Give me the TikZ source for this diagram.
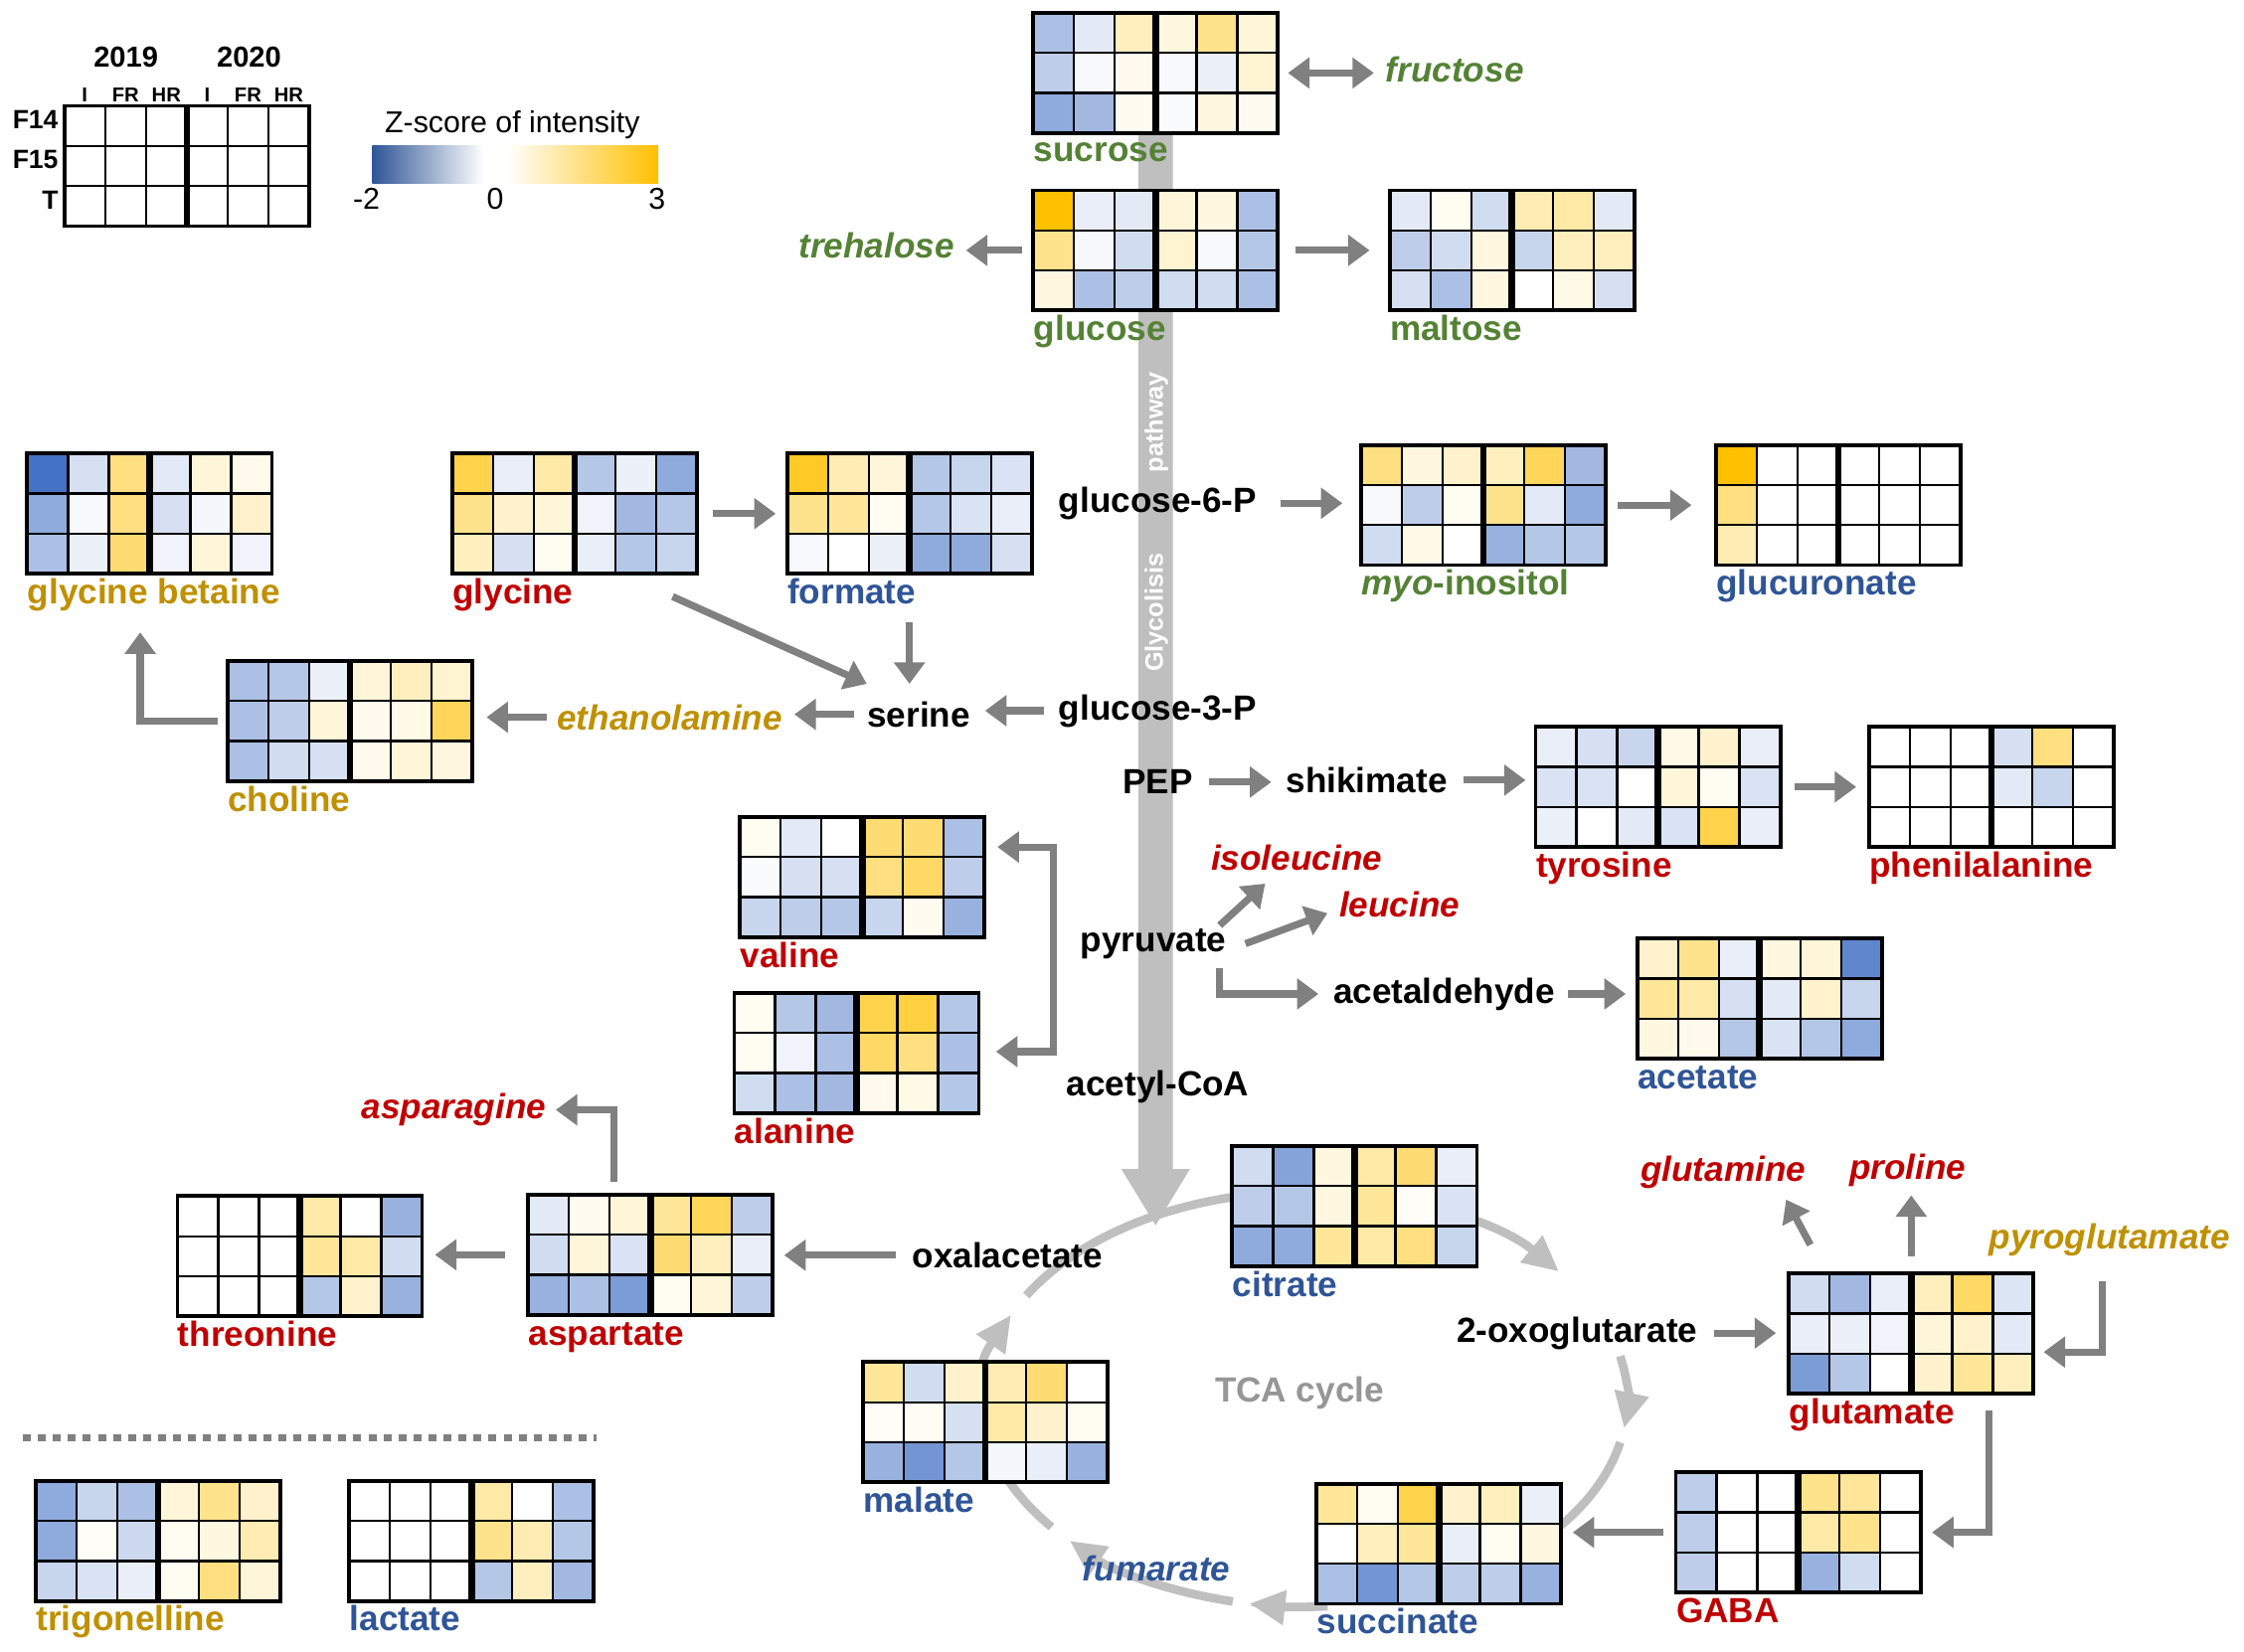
\documentclass[tikz,border=0pt]{standalone}
\usepackage{fontspec}
\setmainfont{Liberation Sans}
\usetikzlibrary{arrows.meta,backgrounds}

\definecolor{hmb}{HTML}{4472C4}
\definecolor{hmy}{HTML}{FFC000}
\definecolor{hmw}{HTML}{FFFFFF}
\definecolor{cgreen}{HTML}{548235}
\definecolor{cred}{HTML}{C00000}
\definecolor{cblue}{HTML}{2F5597}
\definecolor{cgold}{HTML}{BF9000}
\definecolor{agray}{HTML}{808080}
\definecolor{lgray}{HTML}{BFBFBF}
\definecolor{ctca}{HTML}{969696}

\newcommand{\molfont}{\fontsize{13.9}{16}\selectfont\bfseries}

% heatmap: name, top-left corner, 18 cells (colour/percent)
\newcommand{\hmap}[3]{%
  \begin{scope}[shift={(#2)}]
    \foreach \cc/\pp [count=\i from 0] in {#3} {
      \pgfmathtruncatemacro\hc{mod(\i,6)}
      \pgfmathtruncatemacro\hr{floor(\i/6)}
      \fill[fill=hm\cc!\pp!white] (\hc*28.5,\hr*28) rectangle ++(28.5,28);
    }
    \foreach \k in {1,2,4,5} \draw[hmthin] (\k*28.5,0) -- (\k*28.5,84);
    \foreach \k in {1,2} \draw[hmthin] (0,\k*28) -- (171,\k*28);
    \draw[hmmid] (85.5,0) -- (85.5,84);
  \end{scope}
  \node[hmbox] (#1) at (#2) {};
}

\begin{document}
\begin{tikzpicture}[x=0.02cm, y=-0.02cm]
	\tikzstyle{every node}+=[inner sep=0pt]
	\tikzstyle{hmthin}=[black, line width=0.9pt]
	\tikzstyle{hmmid}=[black, line width=2.6pt]
	\tikzstyle{hmbox}=[draw=black, line width=1.5pt, minimum width=3.42cm, minimum height=1.68cm, anchor=north west, outer sep=0pt]
	\tikzstyle{mol}=[anchor=base, font=\molfont]
	\tikzstyle{hmlbl}=[anchor=base west, font=\molfont]
	\tikzstyle{conv}=[draw=agray, line width=0.1cm, -{Triangle[length=0.3cm,width=0.42cm]}]
	\tikzstyle{dconv}=[conv, {Triangle[length=0.3cm,width=0.42cm]}-{Triangle[length=0.3cm,width=0.42cm]}]
	\tikzstyle{tcaarc}=[draw=lgray, line width=0.12cm, -{Triangle[length=0.5cm,width=0.46cm]}]
	\tikzstyle{glyco}=[draw=lgray, line width=0.48cm, -{Triangle[length=0.8cm,width=0.9cm]}]
	\useasboundingbox (0,0) rectangle (1568,1154);

	% legend
	\hmap{legend}{45,74}{w/0,w/0,w/0,w/0,w/0,w/0,w/0,w/0,w/0,w/0,w/0,w/0,w/0,w/0,w/0,w/0,w/0,w/0}
	\node[anchor=base, font=\fontsize{11.5}{13}\selectfont\bfseries] (y2019) at (88,47) {2019};
	\node[anchor=base, font=\fontsize{11.5}{13}\selectfont\bfseries] (y2020) at (174,47) {2020};
	\foreach \t [count=\k] in {I,FR,HR,I,FR,HR}
		\node[anchor=base, font=\fontsize{8}{9}\selectfont\bfseries] (sub\k) at (30.75+28.5*\k,71) {\t};
	\node[anchor=base east, font=\fontsize{10.5}{12}\selectfont\bfseries] (f14) at (41,90) {F14};
	\node[anchor=base east, font=\fontsize{10.5}{12}\selectfont\bfseries] (f15) at (41,118) {F15};
	\node[anchor=base east, font=\fontsize{10.5}{12}\selectfont\bfseries] (rowt) at (41,146) {T};
	\node[anchor=base, font=\fontsize{12}{14}\selectfont] (zlab) at (358,93) {Z-score of intensity};
	\shade[left color=cblue, right color=white] (260,102) rectangle (338,128);
	\fill[white] (338,102) rectangle (354,128);
	\shade[left color=white, right color=hmy] (354,102) rectangle (460,128);
	\node[anchor=base, font=\fontsize{12}{14}\selectfont] (tmin) at (256,146) {-2};
	\node[anchor=base, font=\fontsize{12}{14}\selectfont] (tmid) at (346,146) {0};
	\node[anchor=base, font=\fontsize{12}{14}\selectfont] (tmax) at (459,146) {3};

	% heatmaps
	\hmap{sucrose}{722,9}{b/45,b/15,y/25,y/12,y/45,y/15, b/35,b/4,y/8,b/4,b/10,y/18, b/60,b/50,y/6,b/3,y/12,y/6}
	\hmap{glucose}{722,133}{y/100,b/12,b/15,y/15,y/12,b/45, y/45,b/5,b/25,y/18,b/4,b/40, y/12,b/45,b/35,b/25,b/25,b/45}
	\hmap{maltose}{971,133}{b/15,y/5,b/25,y/30,y/35,b/15, b/35,b/25,y/12,b/30,y/25,y/25, b/22,b/45,y/12,w/0,y/10,b/22}
	\hmap{gbetaine}{19,317}{b/100,b/22,y/50,b/15,y/15,y/8, b/60,b/4,y/50,b/22,b/6,y/20, b/45,b/10,y/55,b/8,y/15,b/8}
	\hmap{glycine}{316,317}{y/70,b/12,y/35,b/40,b/10,b/60, y/45,y/20,y/15,b/8,b/50,b/40, y/25,b/22,y/5,b/12,b/40,b/30}
	\hmap{formate}{550,317}{y/85,y/30,y/15,b/40,b/30,b/20, y/45,y/40,y/5,b/40,b/20,b/12, b/4,w/0,b/10,b/60,b/60,b/22}
	\hmap{myo}{951,311}{y/50,y/12,y/20,y/25,y/65,b/50, b/4,b/35,y/5,y/45,b/15,b/60, b/25,y/10,w/0,b/55,b/40,b/40}
	\hmap{glucuronate}{1199,311}{y/100,w/0,w/0,w/0,w/0,w/0, y/50,w/0,w/0,w/0,w/0,w/0, y/30,w/0,w/0,w/0,w/0,w/0}
	\hmap{choline}{159,462}{b/45,b/40,b/10,y/15,y/25,y/18, b/45,b/35,y/15,y/8,y/10,y/65, b/45,b/25,b/22,y/8,y/15,y/12}
	\hmap{tyrosine}{1073,508}{b/12,b/22,b/30,y/10,y/20,b/12, b/20,b/20,w/0,y/15,y/5,b/20, b/10,w/0,b/15,b/20,y/70,b/12}
	\hmap{phenylalanine}{1306,508}{w/0,w/0,w/0,b/22,y/50,w/0, w/0,w/0,w/0,b/15,b/30,w/0, w/0,w/0,w/0,w/0,w/0,w/0}
	\hmap{valine}{517,571}{y/5,b/15,w/0,y/55,y/55,b/45, b/3,b/22,b/22,y/50,y/60,b/35, b/30,b/35,b/40,b/30,y/6,b/55}
	\hmap{alanine}{513,694}{y/5,b/40,b/50,y/70,y/75,b/40, y/5,b/8,b/45,y/60,y/50,b/45, b/25,b/45,b/50,y/8,y/10,b/40}
	\hmap{acetate}{1144,656}{y/20,y/45,b/12,y/12,y/15,b/85, y/40,y/35,b/22,b/15,y/20,b/30, y/12,y/8,b/40,b/20,b/40,b/60}
	\hmap{threonine}{124,836}{w/0,w/0,w/0,y/35,w/0,b/55, w/0,w/0,w/0,y/40,y/35,b/25, w/0,w/0,w/0,b/40,y/20,b/55}
	\hmap{aspartate}{369,835}{b/15,y/6,y/15,y/40,y/65,b/35, b/25,y/15,b/20,y/55,y/25,b/12, b/55,b/45,b/70,y/5,y/15,b/35}
	\hmap{citrate}{861,801}{b/25,b/65,y/12,y/35,y/55,b/12, b/35,b/40,y/12,y/40,y/3,b/20, b/60,b/60,y/40,y/35,y/50,b/30}
	\hmap{glutamate}{1250,890}{b/25,b/50,b/12,y/25,y/60,b/18, b/12,b/10,b/8,y/15,y/20,b/15, b/70,b/40,w/0,y/20,y/40,y/25}
	\hmap{malate}{603,952}{y/40,b/25,y/20,y/30,y/55,w/0, y/3,y/4,b/22,y/35,y/20,y/5, b/55,b/75,b/40,b/6,b/12,b/55}
	\hmap{succinate}{920,1037}{y/40,y/5,y/70,y/20,y/25,b/10, w/0,y/25,y/40,b/12,y/5,y/12, b/45,b/75,b/40,b/35,b/35,b/55}
	\hmap{gaba}{1171,1029}{b/35,w/0,w/0,y/45,y/40,w/0, b/35,w/0,w/0,y/35,y/45,w/0, b/35,w/0,w/0,b/55,b/25,w/0}
	\hmap{trigonelline}{25,1035}{b/60,b/30,b/45,y/15,y/45,y/20, b/60,y/3,b/28,y/5,y/12,y/30, b/30,b/20,b/12,y/5,y/50,y/15}
	\hmap{lactate}{244,1035}{w/0,w/0,w/0,y/35,w/0,b/45, w/0,w/0,w/0,y/45,y/30,b/40, w/0,w/0,w/0,b/40,y/25,b/50}

	% heatmap labels
	\node[hmlbl, text=cgreen] (sucrose-t) at ([yshift=-0.4cm]sucrose.south west) {sucrose};
	\node[hmlbl, text=cgreen] (glucose-t) at ([yshift=-0.42cm]glucose.south west) {glucose};
	\node[hmlbl, text=cgreen] (maltose-t) at ([yshift=-0.42cm]maltose.south west) {maltose};
	\node[hmlbl, text=cgold] (gbetaine-t) at ([yshift=-0.42cm]gbetaine.south west) {glycine betaine};
	\node[hmlbl, text=cred] (glycine-t) at ([yshift=-0.42cm]glycine.south west) {glycine};
	\node[hmlbl, text=cblue] (formate-t) at ([yshift=-0.42cm]formate.south west) {formate};
	\node[hmlbl, text=cgreen] (myo-t) at ([yshift=-0.42cm]myo.south west) {\itshape myo\upshape-inositol};
	\node[hmlbl, text=cblue] (glucuronate-t) at ([yshift=-0.42cm]glucuronate.south west) {glucuronate};
	\node[hmlbl, text=cgold] (choline-t) at ([yshift=-0.42cm]choline.south west) {choline};
	\node[hmlbl, text=cred] (tyrosine-t) at ([yshift=-0.42cm]tyrosine.south west) {tyrosine};
	\node[hmlbl, text=cred] (phenylalanine-t) at ([yshift=-0.42cm]phenylalanine.south west) {phenilalanine};
	\node[hmlbl, text=cred] (valine-t) at ([yshift=-0.42cm]valine.south west) {valine};
	\node[hmlbl, text=cred] (alanine-t) at ([yshift=-0.42cm]alanine.south west) {alanine};
	\node[hmlbl, text=cblue] (acetate-t) at ([yshift=-0.42cm]acetate.south west) {acetate};
	\node[hmlbl, text=cred] (threonine-t) at ([yshift=-0.42cm]threonine.south west) {threonine};
	\node[hmlbl, text=cred] (aspartate-t) at ([yshift=-0.42cm]aspartate.south west) {aspartate};
	\node[hmlbl, text=cblue] (citrate-t) at ([yshift=-0.42cm]citrate.south west) {citrate};
	\node[hmlbl, text=cred] (glutamate-t) at ([yshift=-0.42cm]glutamate.south west) {glutamate};
	\node[hmlbl, text=cblue] (malate-t) at ([yshift=-0.42cm]malate.south west) {malate};
	\node[hmlbl, text=cblue] (succinate-t) at ([yshift=-0.42cm]succinate.south west) {succinate};
	\node[hmlbl, text=cred] (gaba-t) at ([yshift=-0.42cm]gaba.south west) {GABA};
	\node[hmlbl, text=cgold] (trigonelline-t) at ([yshift=-0.42cm]trigonelline.south west) {trigonelline};
	\node[hmlbl, text=cblue] (lactate-t) at ([yshift=-0.42cm]lactate.south west) {lactate};

	% free metabolites
	\node[mol, anchor=base west, text=cgreen, font=\molfont\itshape] (fructose) at (968,57) {fructose};
	\node[mol, anchor=base east, text=cgreen, font=\molfont\itshape] (trehalose) at (667,180) {trehalose};
	\node[mol] (g6p) at (809,358) {glucose-6-P};
	\node[mol] (g3p) at (809,503) {glucose-3-P};
	\node[mol] (serine) at (642,508) {serine};
	\node[mol, text=cgold, font=\molfont\itshape] (ethanolamine) at (468,510) {ethanolamine};
	\node[mol] (pep) at (809,555) {PEP};
	\node[mol] (shikimate) at (955,554) {shikimate};
	\node[mol, text=cred, font=\molfont\itshape] (isoleucine) at (906,608) {isoleucine};
	\node[mol, text=cred, font=\molfont\itshape] (leucine) at (978,641) {leucine};
	\node[mol] (pyruvate) at (806,665) {pyruvate};
	\node[mol] (acetaldehyde) at (1009,701) {acetaldehyde};
	\node[mol] (acetylcoa) at (809,766) {acetyl-CoA};
	\node[mol, text=cred, font=\molfont\itshape] (asparagine) at (317,782) {asparagine};
	\node[mol] (oxalacetate) at (704,886) {oxalacetate};
	\node[mol] (oxoglut) at (1102,938) {2-oxoglutarate};
	\node[mol, text=cred, font=\molfont\itshape] (glutamine) at (1204,826) {glutamine};
	\node[mol, text=cred, font=\molfont\itshape] (proline) at (1333,824) {proline};
	\node[mol, text=cgold, font=\molfont\itshape] (pyroglutamate) at (1474,873) {pyroglutamate};
	\node[mol, text=cblue, font=\molfont\itshape] (fumarate) at (808,1105) {fumarate};
	\node[mol, text=ctca] (tcalbl) at (908,980) {TCA cycle};
	\node[rotate=90, text=white, font=\fontsize{10}{12}\selectfont\bfseries] (pathway) at (808,295) {pathway};
	\node[rotate=90, text=white, font=\fontsize{10}{12}\selectfont\bfseries] (glycolisis) at (808,428) {Glycolisis};

	% glycolysis and TCA cycle
	\coordinate (tcain) at (807.5,857);
	\coordinate (tca) at (912,978);
	\begin{scope}[on background layer]
		\draw[glyco] (sucrose.south) -- (tcain);
		\draw[tcaarc] (tca) ++(210:225 and 145) arc[start angle=210, end angle=322, x radius=225, y radius=145];
		\draw[tcaarc] (tca) ++(348:225 and 145) arc[start angle=348, end angle=368, x radius=225, y radius=145];
		\draw[tcaarc, -] (tca) ++(12:225 and 145) arc[start angle=12, end angle=45, x radius=225, y radius=145];
		\draw[tcaarc] (tca) ++(86:225 and 145) arc[start angle=86, end angle=100, x radius=225, y radius=145];
		\draw[tcaarc] (tca) ++(103:225 and 145) arc[start angle=103, end angle=137, x radius=225, y radius=145];
		\draw[tcaarc] (tca) ++(142:225 and 145) arc[start angle=142, end angle=204, x radius=225, y radius=145];
	\end{scope}

	% sugars
	\draw[dconv, shorten <=0.14cm, shorten >=0.16cm] (sucrose.east) -- (sucrose.east -| fructose.west);
	\draw[conv, shorten <=0.16cm, shorten >=0.16cm] (glucose.west) -- (glucose.west -| trehalose.east);
	\draw[conv, shorten <=0.24cm, shorten >=0.28cm] (glucose.east) -- (maltose.west);
	\draw[conv, shorten <=0.32cm, shorten >=0.26cm] (g6p.east) -- (g6p.east -| myo.west);
	\draw[conv, shorten <=0.16cm, shorten >=0.34cm] (myo.east) -- (glucuronate.west);

	% serine and glycine
	\draw[conv, shorten <=0.22cm, shorten >=0.16cm] (glycine.east) -- (glycine.east -| formate.west);
	\draw[conv] ([xshift=-0.34cm,yshift=-0.32cm]glycine.south east) -- ([yshift=0.24cm]serine.north west);
	\draw[conv, shorten <=0.68cm, shorten >=0.24cm] (formate.south) -- (formate.south |- serine.north);
	\draw[conv, shorten <=0.2cm, shorten >=0.2cm] (g3p.west) -- (g3p.west -| serine.east);
	\draw[conv, shorten <=0.18cm, shorten >=0.16cm] (serine.west) -- (serine.west -| ethanolamine.east);
	\draw[conv, shorten <=0.14cm, shorten >=0.2cm] (ethanolamine.west) -- (ethanolamine.west -| choline.east);
	\draw[conv, shorten <=0.14cm] (choline.west) -| ([xshift=-0.13cm,yshift=-0.82cm]gbetaine.south);

	% aromatic
	\draw[conv, shorten <=0.22cm, shorten >=0.2cm] (pep.east) -- (pep.east -| shikimate.west);
	\draw[conv, shorten <=0.22cm, shorten >=0.14cm] (shikimate.east) -- (shikimate.east -| tyrosine.west);
	\draw[conv, shorten <=0.2cm, shorten >=0.18cm] (tyrosine.east) -- (phenylalanine.west);

	% pyruvate
	\coordinate (vbr) at (736,592);
	\coordinate (abr) at (736,735);
	\draw[dconv, shorten <=0.18cm, shorten >=0.24cm] (vbr -| valine.east) -- (vbr) -- (abr) -- (abr -| alanine.east);
	\draw[conv] ([xshift=-0.1cm,yshift=0.04cm]pyruvate.north east) -- ([xshift=-0.44cm,yshift=-0.18cm]isoleucine.south);
	\draw[conv] ([xshift=0.26cm]pyruvate.east) -- ([xshift=-0.16cm,yshift=-0.12cm]leucine.west);
	\draw[conv, shorten <=0.12cm, shorten >=0.2cm] ([xshift=-0.1cm]pyruvate.south east) |- (acetaldehyde.west);
	\draw[conv, shorten <=0.18cm, shorten >=0.16cm] (acetaldehyde.east) -- (acetaldehyde.east -| acetate.west);

	% aspartate
	\draw[conv, shorten <=0.23cm, shorten >=0.16cm] (oxalacetate.west) -- (oxalacetate.west -| aspartate.east);
	\draw[conv, shorten <=0.32cm, shorten >=0.18cm] (aspartate.west) -- (aspartate.west -| threonine.east);
	\draw[conv, shorten <=0.18cm, shorten >=0.13cm] ([xshift=-0.51cm]aspartate.north) |- (asparagine.east);

	% glutamate
	\draw[conv, shorten <=0.22cm, shorten >=0.18cm] (oxoglut.east) -- (oxoglut.east -| glutamate.west);
	\draw[conv] ([xshift=0.3cm,yshift=0.4cm]glutamate.north west) -- ([xshift=-0.28cm,yshift=-0.14cm]glutamine.south east);
	\draw[conv, shorten <=0.24cm, shorten >=0.12cm] (glutamate.north) -- (glutamate.north |- proline.south);
	\draw[conv, shorten <=0.34cm, shorten >=0.14cm] ([xshift=-0.1cm]pyroglutamate.south) |- ([yshift=-0.26cm]glutamate.east);
	\draw[conv, shorten <=0.24cm, shorten >=0.16cm] ([xshift=1.09cm]glutamate.south) |- (gaba.east);
	\draw[conv, shorten <=0.18cm, shorten >=0.16cm] (gaba.west) -- (gaba.west -| succinate.east);

	% separator
	\draw[agray, line width=0.1cm, dash pattern=on 0.11cm off 0.1cm] (16,1005) -- (417,1005);
\end{tikzpicture}
\end{document}
